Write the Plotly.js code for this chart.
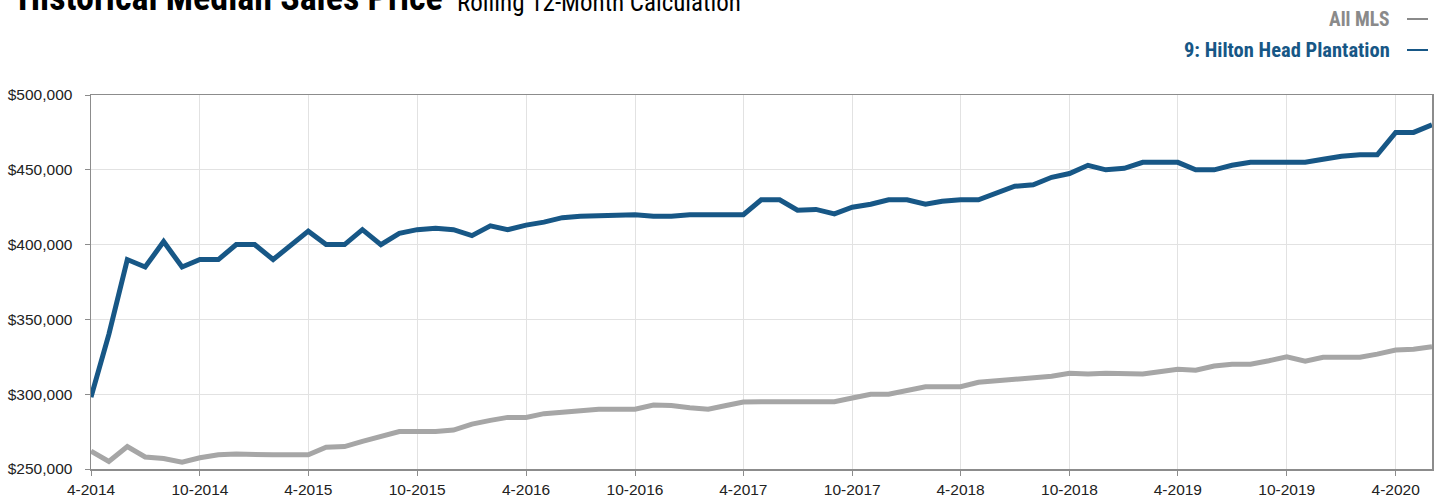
<!DOCTYPE html>
<html><head><meta charset="utf-8">
<script src="https://cdn.plot.ly/plotly-3.0.1.min.js"></script>
<style>html,body{margin:0;padding:0;background:#fff}#chart{width:1442px;height:497px}</style>
</head><body><div id="chart"></div>
<script>
// Monthly, rolling 12-month median sales price, 4-2014 .. 6-2020
const startYear = 2014, startMonth = 4, nMonths = 75;
const hiltonHead = [
  298000, 340000, 390000, 385000, 402000, 385000, 390000, 390000, 400000, 400000,
  390000, 399000, 409000, 400000, 400000, 410000, 400000, 407500, 410000, 411000,
  410000, 406000, 412500, 410000, 413000, 415000, 418000, 419000, 419500, 420000,
  420000, 419000, 419000, 420000, 420000, 420000, 420000, 430000, 430000, 423000,
  423500, 420500, 425000, 427000, 430000, 430000, 427000, 429000, 430000, 430000,
  435000, 439000, 440000, 445000, 447500, 453000, 450000, 451000, 455000, 455000,
  455000, 450000, 450000, 453000, 455000, 455000, 455000, 455000, 457000, 459000,
  460000, 460000, 475000, 475000, 480000
];
const allMLS = [
  262000, 255000, 265000, 258000, 257000, 254500, 257500, 259500, 260000, 259500,
  259500, 259500, 259500, 264500, 265000, 268500, 272000, 275000, 275000, 275000,
  276000, 280000, 282500, 284500, 284500, 287000, 288000, 289000, 290000, 290000,
  290000, 292800, 292500, 291000, 290000, 292300, 294800, 295000, 295000, 295000,
  295000, 295000, 297500, 300000, 300000, 302600, 305000, 305000, 305000, 308000,
  309000, 309700, 310600, 312000, 314000, 313500, 314000, 314000, 313500, 315000,
  316600, 316000, 318800, 320000, 320000, 322400, 325000, 322000, 324700, 324700,
  324700, 326800, 329500, 330000, 331700
];
const seriesNames = ["All MLS", "9: Hilton Head Plantation"];
const yTicks = [250000, 300000, 350000, 400000, 450000, 500000];

const months = [];
for (let i = 0; i < nMonths; i++) {
  const m0 = startMonth - 1 + i;
  const y = startYear + Math.floor(m0 / 12);
  const m = (m0 % 12) + 1;
  months.push(y + "-" + String(m).padStart(2, "0") + "-01");
}

const BLUE = "#175786", GRAY = "#a6a6a6", LEGGRAY = "#8a8a8a";
const L = 91, R = 1432, T = 95, B = 469;
const px = x => (x - L) / (R - L);
const py = y => (B - y) / (B - T);
const COND = "'Liberation Sans Narrow', 'Arial Narrow', 'Roboto Condensed', 'Liberation Sans', sans-serif";

const traces = [
  {x: months, y: allMLS, name: seriesNames[0], type: "scatter", mode: "lines",
   line: {color: GRAY, width: 5}, hoverinfo: "skip"},
  {x: months, y: hiltonHead, name: seriesNames[1], type: "scatter", mode: "lines",
   line: {color: BLUE, width: 5}, hoverinfo: "skip"}
];

const layout = {
  width: 1442, height: 497,
  margin: {l: L, r: 1442 - R, t: T, b: 497 - B},
  paper_bgcolor: "#fff", plot_bgcolor: "#fff",
  showlegend: false,
  font: {family: "'Liberation Sans', Arial, sans-serif", size: 15.5, color: "#222"},
  xaxis: {
    type: "date", range: [months[0], months[nMonths - 1]],
    tick0: months[0], dtick: "M6", tickformat: "%-m-%Y",
    showgrid: true, gridcolor: "#e2e2e2", gridwidth: 1,
    showline: true, linecolor: "#8c8c8c", linewidth: 1.5, mirror: true,
    ticks: "outside", ticklen: 5, tickcolor: "#8c8c8c", ticklabelstandoff: 1,
    tickfont: {size: 15.5, color: "#222"}, zeroline: false, fixedrange: true
  },
  yaxis: {
    range: [250000, 500000], tickvals: yTicks, tickformat: "$,.0f",
    showgrid: true, gridcolor: "#e2e2e2", gridwidth: 1,
    showline: true, linecolor: "#8c8c8c", linewidth: 1.5, mirror: true,
    ticks: "outside", ticklen: 5, tickcolor: "#8c8c8c", ticklabelstandoff: 9,
    tickfont: {size: 15.5, color: "#222"}, zeroline: false, fixedrange: true
  },
  annotations: [
    {xref: "paper", yref: "paper", x: px(16), y: py(21), xanchor: "left", yanchor: "bottom",
     showarrow: false, text: "<b>Historical Median Sales Price</b>",
     font: {family: COND, size: 36, color: "#000"}},
    {xref: "paper", yref: "paper", x: px(455), y: py(19), xanchor: "left", yanchor: "bottom",
     showarrow: false, text: "Rolling 12-Month Calculation",
     font: {family: COND, size: 25, color: "#000"}},
    {xref: "paper", yref: "paper", x: px(1392), y: py(19), xanchor: "right", yanchor: "middle",
     showarrow: false, text: "<b>" + seriesNames[0] + "</b>",
     font: {family: COND, size: 19.5, color: LEGGRAY}},
    {xref: "paper", yref: "paper", x: px(1392), y: py(50), xanchor: "right", yanchor: "middle",
     showarrow: false, text: "<b>" + seriesNames[1] + "</b>",
     font: {family: COND, size: 20.5, color: BLUE}}
  ],
  shapes: [
    {type: "line", xref: "paper", yref: "paper", x0: px(1407), x1: px(1428), y0: py(19), y1: py(19),
     line: {color: LEGGRAY, width: 2}},
    {type: "line", xref: "paper", yref: "paper", x0: px(1407), x1: px(1428), y0: py(50), y1: py(50),
     line: {color: BLUE, width: 2}}
  ]
};

Plotly.newPlot("chart", traces, layout, {displayModeBar: false, staticPlot: true});
</script>
</body></html>
